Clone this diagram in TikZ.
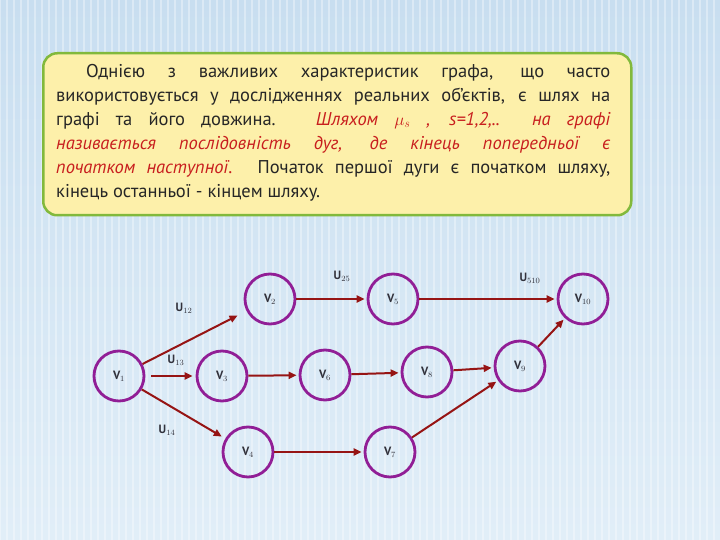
\documentclass[tikz,border=0pt]{standalone}
\usepackage{fontspec}
\setmainfont{PT Sans}
\usetikzlibrary{arrows.meta}
\definecolor{bgtop}{RGB}{200,222,240}
\definecolor{bgbot}{RGB}{225,238,248}
\definecolor{boxfill}{RGB}{253,240,170}
\definecolor{boxedge}{RGB}{130,185,60}
\definecolor{redtxt}{RGB}{200,30,30}
\definecolor{arr}{RGB}{150,20,20}
\definecolor{circ}{RGB}{145,30,150}
\definecolor{lbl}{RGB}{50,50,60}
\tikzset{
  vert/.style={circle,draw=circ,line width=2.8pt,minimum size=50pt,inner sep=0pt,font=\fontsize{12}{14}\selectfont\bfseries,text=lbl},
  arc/.style={draw=arr,line width=2pt,-{Triangle[length=8pt,width=7pt]},shorten >=2pt},
  ulab/.style={font=\fontsize{12}{14}\selectfont\bfseries,text=lbl}
}
\begin{document}
\begin{tikzpicture}[x=1pt,y=-1pt]
\useasboundingbox (0,0) rectangle (720,540);
\shade[top color=bgtop,bottom color=bgbot] (0,0) rectangle (720,540);
\foreach \i in {0,7,...,720} \draw[white,opacity=0.35,line width=2pt] (\i,0) -- (\i,540);
% text box
\node[draw=boxedge,line width=2.5pt,fill=boxfill,rounded corners=14pt,minimum width=588pt,minimum height=162pt,anchor=north west] (box) at (42,52) {};
\node[anchor=north west,text width=554pt,align=justify,font=\fontsize{18.5}{24}\selectfont,text=black!85,inner sep=0pt] (txt) at (56,64)
{\hspace*{30pt}Однією з важливих характеристик графа, що часто\linebreak використовується у дослідженнях реальних об'єктів, є шлях на\linebreak графі та його довжина. {\color{redtxt}\itshape Шляхом $\mu_s$ , s=1,2,..\ \ на графі\linebreak називається послідовність дуг, де кінець попередньої є\linebreak початком наступної.} Початок першої дуги є початком шляху,\linebreak кінець останньої - кінцем шляху.};
% vertices
\node[vert] (v1) at (119,376) {V$_1$};
\node[vert] (v2) at (270,299) {V$_2$};
\node[vert] (v5) at (393,299) {V$_5$};
\node[vert] (v10) at (583,299) {V$_{10}$};
\node[vert] (v3) at (222,376) {V$_3$};
\node[vert] (v6) at (325,375) {V$_6$};
\node[vert] (v8) at (427,372) {V$_8$};
\node[vert] (v9) at (520,366) {V$_9$};
\node[vert] (v4) at (248,452) {V$_4$};
\node[vert] (v7) at (390,452) {V$_7$};
% arcs
\draw[arc,shorten >=10pt] (v1) -- (v2);
\draw[arc,shorten >=3pt,shorten <=6pt] (v1) -- (v3);
\draw[arc,shorten >=4pt] (v1) -- (v4);
\draw[arc] (v2) -- (v5);
\draw[arc] (v5) -- (v10);
\draw[arc] (v3) -- (v6);
\draw[arc] (v6) -- (v8);
\draw[arc] (v8) -- (v9);
\draw[arc] (v4) -- (v7);
\draw[arc] (v7) -- (v9);
\draw[arc] (v9) -- (v10);
% labels
\node[ulab] (u12) at (184,308) {U$_{12}$};
\node[ulab] (u13) at (176,360) {U$_{13}$};
\node[ulab] (u14) at (167,430) {U$_{14}$};
\node[ulab] (u25) at (342,276) {U$_{25}$};
\node[ulab] (u510) at (530,278) {U$_{510}$};
\end{tikzpicture}
\end{document}
